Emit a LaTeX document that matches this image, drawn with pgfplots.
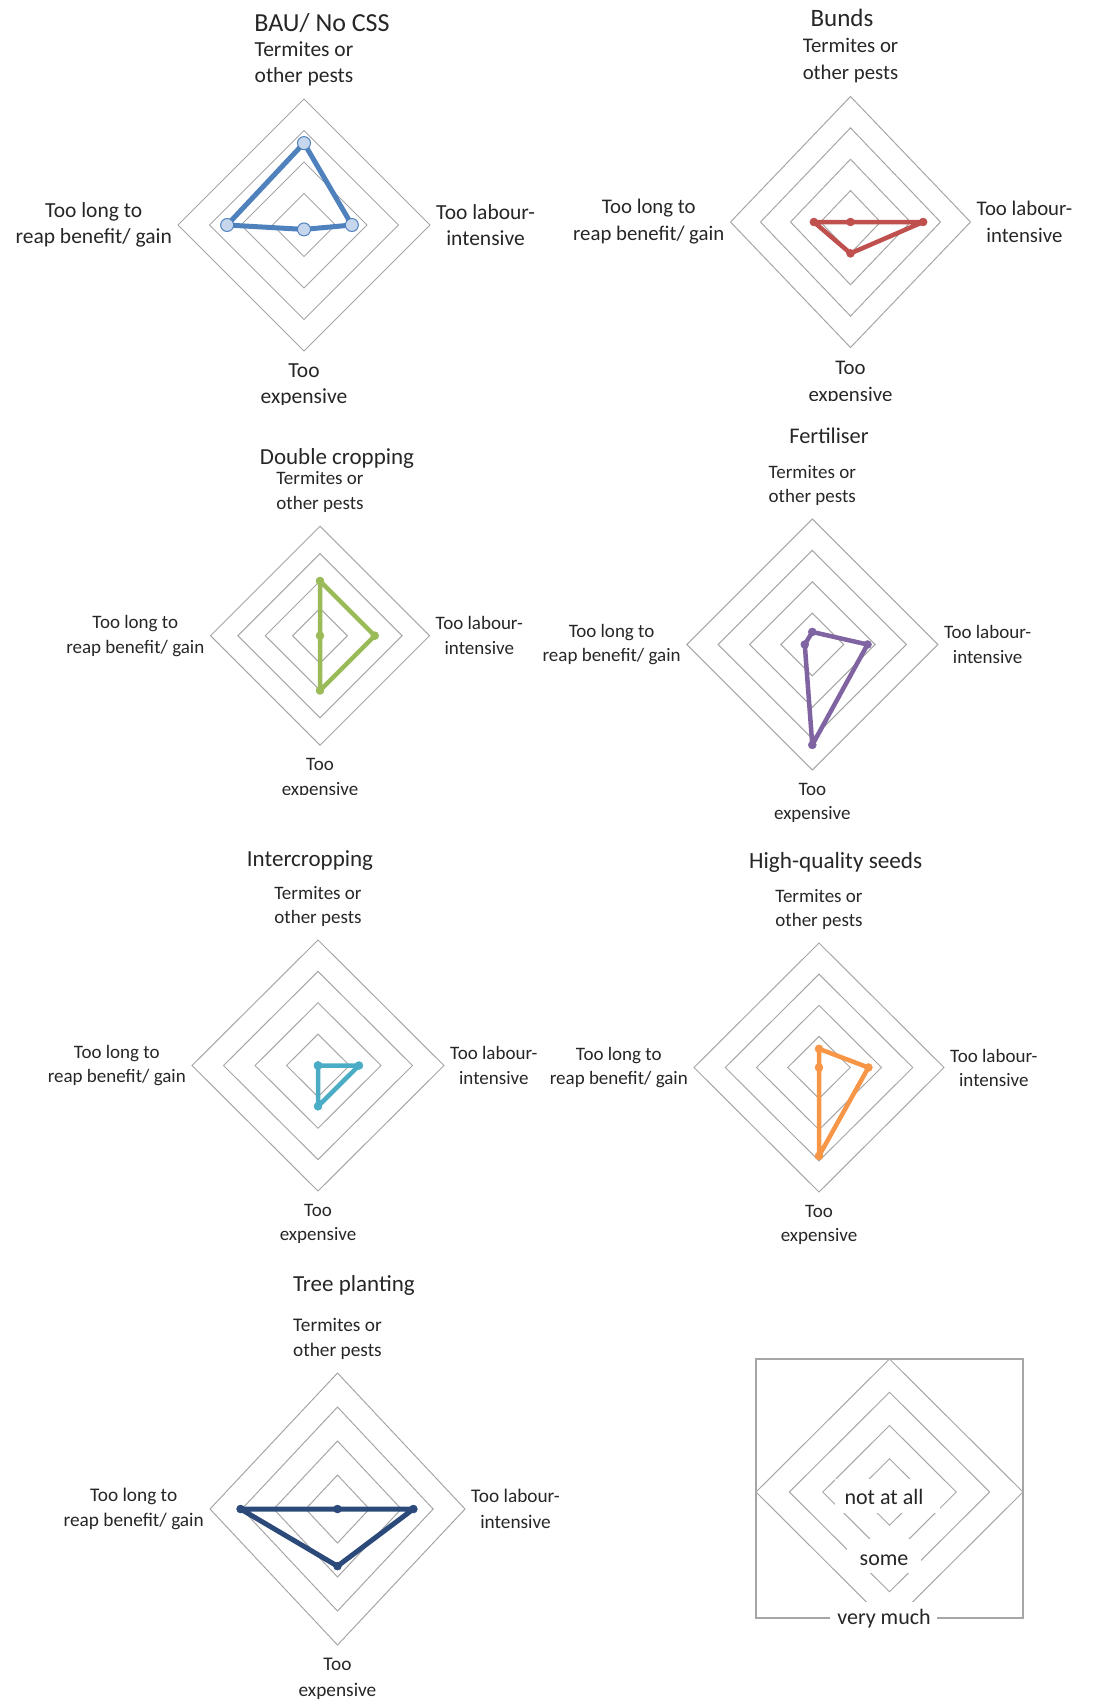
\documentclass[border=0pt]{standalone}
\usepackage{fontspec}
\setmainfont{Carlito}
\usepackage{pgfplots}
\pgfplotsset{compat=1.18}

\definecolor{gridgray}{HTML}{A6A6A6}
\definecolor{bauline}{HTML}{4F81BD}
\definecolor{baufill}{HTML}{C6D6EC}
\definecolor{bundsred}{HTML}{C0504D}
\definecolor{dcgreen}{HTML}{9BBB59}
\definecolor{fertpurple}{HTML}{8064A2}
\definecolor{interteal}{HTML}{4BACC6}
\definecolor{hqorange}{HTML}{F79646}
\definecolor{treenavy}{HTML}{2B4A7A}
\definecolor{txt}{HTML}{262626}

\tikzset{lab/.style={align=center, inner sep=0pt, text=txt}}
\pgfplotsset{
  radar/.style={scale only axis, hide axis, clip=false, anchor=center,
    xmin=-2, xmax=2, ymin=-2, ymax=2},
  ring/.style={gridgray, line width=1pt},
  series/.style={#1, line width=4.5pt, line join=round, mark=*, mark size=4pt,
    mark options={fill=#1, draw=#1, line width=0.5pt}},
}

% score above "not at all" (outer ring = very much = 2)
\newcommand\rings{%
  \addplot[ring] coordinates {(0,2) (2,0) (0,-2) (-2,0)} -- cycle;
  \addplot[ring] coordinates {(0,1.5) (1.5,0) (0,-1.5) (-1.5,0)} -- cycle;
  \addplot[ring] coordinates {(0,1) (1,0) (0,-1) (-1,0)} -- cycle;
  \addplot[ring] coordinates {(0,0.5) (0.5,0) (0,-0.5) (-0.5,0)} -- cycle;
}
\newcommand\spokes[2]{%
  \node[lab, font=\fontsize{#1}{#2}\selectfont, anchor=south, yshift=13pt] at (axis cs:0,2) {Termites or\\other pests};
  \node[lab, font=\fontsize{#1}{#2}\selectfont, anchor=west, xshift=6pt] at (axis cs:2,0) {Too labour-\\intensive};
  \node[lab, font=\fontsize{#1}{#2}\selectfont, anchor=north, yshift=-13pt] at (axis cs:0,-2) {Too\\expensive};
  \node[lab, font=\fontsize{#1}{#2}\selectfont, anchor=east, xshift=-6pt] at (axis cs:-2,0) {Too long to\\reap benefit/ gain};
}

\begin{document}
\begin{tikzpicture}
\useasboundingbox (0pt,0pt) rectangle (1104pt,-1702pt);

% BAU / No CSS
\begin{axis}[radar, at={(304pt,-225pt)}, width=252pt, height=252pt]
\rings
\addplot[bauline, line width=5pt, line join=round, mark=*, mark size=6.5pt,
  mark options={fill=baufill, draw=bauline, line width=1pt}]
  coordinates {(0,1.30) (0.76,0) (0,-0.07) (-1.22,0)} -- cycle;
\spokes{21.5}{26}
\end{axis}
\node[lab, font=\fontsize{26}{30}\selectfont, anchor=base] at (322pt,-32pt) {BAU/ No CSS};

% Bunds
\begin{axis}[radar, at={(850.5pt,-222pt)}, width=240pt, height=251pt]
\rings
\addplot[series=bundsred] coordinates {(0,0) (1.21,0) (0,-0.50) (-0.61,0)} -- cycle;
\spokes{20.8}{27}
\end{axis}
\node[lab, font=\fontsize{25}{30}\selectfont, anchor=base] at (842pt,-26.7pt) {Bunds};

% Double cropping
\begin{axis}[radar, at={(320pt,-635.7pt)}, width=219pt, height=219pt]
\rings
\addplot[series=dcgreen] coordinates {(0,1.0) (1.0,0) (0,-1.0) (0,0)} -- cycle;
\spokes{19}{25}
\end{axis}
\node[lab, font=\fontsize{23}{28}\selectfont, anchor=base] at (337pt,-464.3pt) {Double cropping};

% Fertiliser
\begin{axis}[radar, at={(812.3pt,-644.5pt)}, width=251pt, height=251pt]
\rings
\addplot[series=fertpurple] coordinates {(0,0.20) (0.88,0) (0,-1.60) (-0.12,0)} -- cycle;
\spokes{19}{24.5}
\end{axis}
\node[lab, font=\fontsize{22.4}{27}\selectfont, anchor=base] at (829pt,-443.3pt) {Fertiliser};

% Intercropping
\begin{axis}[radar, at={(318pt,-1065.5pt)}, width=252pt, height=251pt]
\rings
\addplot[series=interteal] coordinates {(0,0) (0.65,0) (0,-0.65) (0,0)} -- cycle;
\spokes{19}{24.5}
\end{axis}
\node[lab, font=\fontsize{23}{28}\selectfont, anchor=base] at (310pt,-866pt) {Intercropping};

% High-quality seeds
\begin{axis}[radar, at={(819pt,-1067.5pt)}, width=250pt, height=249pt]
\rings
\addplot[series=hqorange] coordinates {(0,0.30) (0.79,0) (0,-1.42) (0,0)} -- cycle;
\spokes{19}{24}
\end{axis}
\node[lab, font=\fontsize{23.2}{28}\selectfont, anchor=base] at (835.7pt,-868.3pt) {High-quality seeds};

% Tree planting
\begin{axis}[radar, at={(337.5pt,-1509pt)}, width=255pt, height=272pt]
\rings
\addplot[series=treenavy, line width=5pt] coordinates {(0,0) (1.19,0) (0,-0.84) (-1.52,0)} -- cycle;
\spokes{19.3}{25.5}
\end{axis}
\node[lab, font=\fontsize{23}{28}\selectfont, anchor=base] at (354pt,-1291.7pt) {Tree planting};

% key to the rings
\begin{axis}[scale only axis, clip=false, anchor=north west, at={(756pt,-1359pt)},
  width=267pt, height=259pt, xmin=-4, xmax=4, ymin=-3.79, ymax=4,
  xtick=\empty, ytick=\empty, axis line style={gridgray, line width=1.2pt}]
\addplot[ring] coordinates {(0,4) (4,0) (0,-4) (-4,0)} -- cycle;
\addplot[ring] coordinates {(0,3) (3,0) (0,-3) (-3,0)} -- cycle;
\addplot[ring] coordinates {(0,2) (2,0) (0,-2) (-2,0)} -- cycle;
\addplot[ring] coordinates {(0,1) (1,0) (0,-1) (-1,0)} -- cycle;
\end{axis}
\fill[white] (835pt,-1479pt) rectangle (940pt,-1513pt);
\fill[white] (846.7pt,-1539.3pt) rectangle (920.7pt,-1573.3pt);
\fill[white] (830pt,-1601.7pt) rectangle (937pt,-1632pt);
\node[lab, font=\fontsize{22}{26}\selectfont, anchor=base] at (884pt,-1504pt) {not at all};
\node[lab, font=\fontsize{22}{26}\selectfont, anchor=base] at (884pt,-1565pt) {some};
\node[lab, font=\fontsize{22}{26}\selectfont, anchor=base] at (884pt,-1624pt) {very much};

% chart areas cut the lowest labels
\fill[white] (0pt,-405pt) rectangle (552pt,-430pt);
\fill[white] (552pt,-401pt) rectangle (1104pt,-418pt);
\fill[white] (0pt,-795pt) rectangle (552pt,-830pt);
\end{tikzpicture}
\end{document}
